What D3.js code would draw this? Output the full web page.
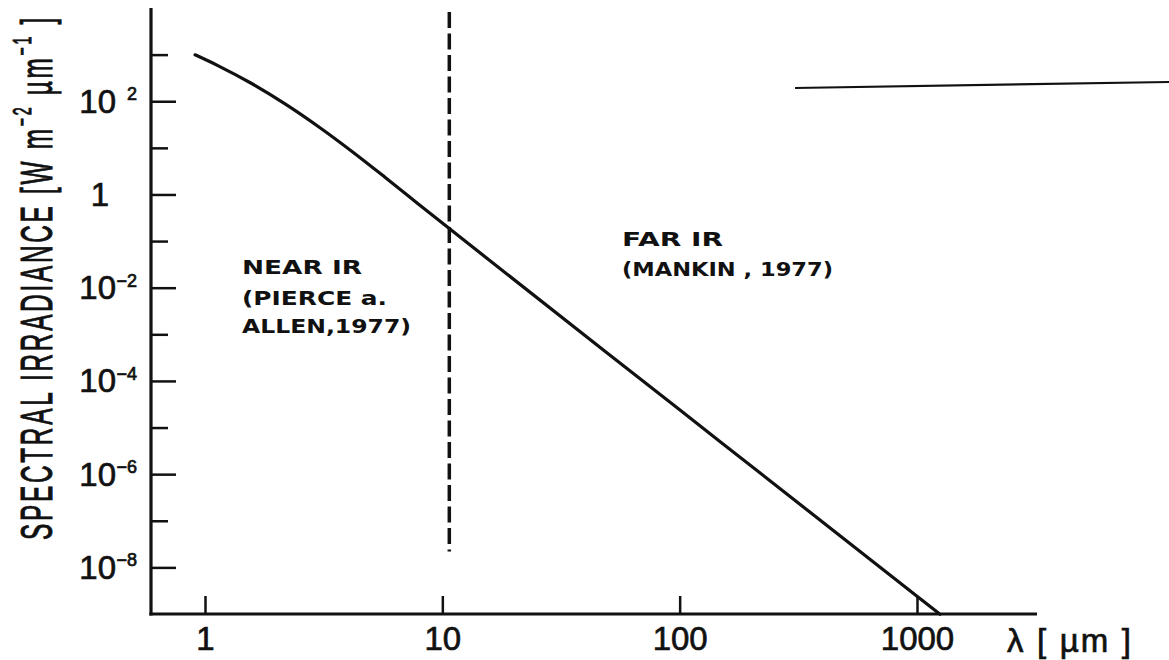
<!DOCTYPE html>
<html>
<head>
<meta charset="utf-8">
<script src="https://cdn.jsdelivr.net/npm/d3@7"></script>
<style>
  html, body { margin: 0; padding: 0; background: #fff; }
  svg { display: block; }
</style>
</head>
<body>
<svg id="chart" width="1169" height="660"></svg>
<script>
// Solar spectral irradiance in the infrared, wavelength in µm
const wavelength = [0.908, 1.138, 1.573, 2.174, 3.0, 4.15, 5.73, 7.92, 10.6, 100, 1000, 1250];
const irradiance = [991, 575, 240, 87.9, 28.8, 8.49, 2.35, 0.628, 0.192, 2.40e-5, 2.41e-9, 9.9e-10];

// Axis ticks
const xTickValues = [1, 10, 100, 1000];
const xTickLabels = ["1", "10", "100", "1000"];
const yMajorExponents = [2, 0, -2, -4, -6, -8];
const yMinorExponents = [3, 1, -1, -3, -5, -7];

// Boundary between the two data sources
const boundaryWavelength = 10.7;
const boundarySpan = [2.2e-8, 8.2e3];

// Region annotations
const nearLines = ["NEAR IR", "(PIERCE a.", "ALLEN,1977)"];
const nearWidths = [120, 145, 169];
const farLines = ["FAR IR", "(MANKIN , 1977)"];
const farWidths = [101, 211];

(function draw() {
  const svg = d3.select("#chart");
  const ink = "#111";

  const plotLeft = 151, plotRight = 1037, plotTop = 8, plotBottom = 614;

  const x = d3.scaleLog().domain([1, 1000]).range([205, 917]);
  const y = d3.scaleLog().domain([1e-9, 1e4]).range([plotBottom, plotTop]);

  const numFont = "'Liberation Sans', Arial, sans-serif";

  // ---- y axis: major and minor inward ticks ----
  const yMajor = svg.append("g").attr("transform", `translate(${plotLeft},0)`)
    .call(d3.axisLeft(y).tickValues(yMajorExponents.map(e => Math.pow(10, e)))
      .tickSize(-25).tickFormat(""));
  const yMinor = svg.append("g").attr("transform", `translate(${plotLeft},0)`)
    .call(d3.axisLeft(y).tickValues(yMinorExponents.map(e => Math.pow(10, e)))
      .tickSize(-17).tickFormat(""));
  [yMajor, yMinor].forEach(g => {
    g.select(".domain").remove();
    g.selectAll(".tick line").attr("stroke", ink).attr("stroke-width", 2.5);
  });

  // y tick labels as powers of ten
  const yLab = svg.append("g").attr("font-family", numFont).attr("fill", ink)
    .attr("stroke", ink).attr("stroke-width", 0.7);
  yMajorExponents.forEach(e => {
    const ty = y(Math.pow(10, e));
    if (e === 0) {
      yLab.append("text").attr("x", plotLeft - 42).attr("y", ty).attr("dy", "0.35em")
        .attr("text-anchor", "end").attr("font-size", 33).text("1");
    } else {
      yLab.append("text").attr("x", plotLeft - 35).attr("y", ty).attr("dy", "0.35em")
        .attr("text-anchor", "end").attr("font-size", 33).text("10");
      yLab.append("text").attr("x", plotLeft - 14).attr("y", ty - 1)
        .attr("text-anchor", "end").attr("font-size", 18)
        .text(e < 0 ? "\u2212" + Math.abs(e) : String(e));
    }
  });

  // ---- x axis: short upward ticks ----
  const xAxis = svg.append("g").attr("transform", `translate(0,${plotBottom})`)
    .call(d3.axisBottom(x).tickValues(xTickValues).tickSize(-18).tickPadding(13)
      .tickFormat((d, i) => xTickLabels[i]));
  xAxis.select(".domain").remove();
  xAxis.selectAll(".tick line").attr("stroke", ink).attr("stroke-width", 2.5);
  xAxis.selectAll(".tick text").attr("font-family", numFont).attr("font-size", 33)
    .attr("fill", ink).attr("stroke", ink).attr("stroke-width", 0.7);

  // axis lines
  svg.append("line").attr("x1", plotLeft).attr("x2", plotLeft)
    .attr("y1", plotTop).attr("y2", plotBottom + 1.5)
    .attr("stroke", ink).attr("stroke-width", 3.2);
  svg.append("line").attr("x1", plotLeft - 1.6).attr("x2", plotRight)
    .attr("y1", plotBottom).attr("y2", plotBottom)
    .attr("stroke", ink).attr("stroke-width", 3.2);

  // x axis title
  svg.append("text").attr("x", 1007).attr("y", 652)
    .attr("font-family", numFont).attr("font-size", 33).attr("fill", ink)
    .attr("stroke", ink).attr("stroke-width", 0.7)
    .attr("textLength", 124).attr("lengthAdjust", "spacing")
    .text("\u03bb [ \u00b5m ]");

  // y axis title, rotated and compressed to its column
  const yTitleG = svg.append("g");
  const yTitle = yTitleG.append("text")
    .attr("font-family", numFont).attr("font-size", 45).attr("fill", ink)
    .attr("letter-spacing", 5)
    .attr("stroke", ink).attr("stroke-width", 1.0);
  yTitle.append("tspan").text("SPECTRAL IRRADIANCE [W m");
  yTitle.append("tspan").attr("font-size", 26).attr("dy", -21).text("\u22122");
  yTitle.append("tspan").attr("dy", 21).text(" \u00b5m");
  yTitle.append("tspan").attr("font-size", 26).attr("dy", -21).text("\u22121");
  yTitle.append("tspan").attr("dy", 21).text(" ]");
  const natural = yTitle.node().getComputedTextLength();
  const sx = 525 / natural;
  yTitleG.attr("transform", `translate(52,540) rotate(-90) scale(${sx},1)`);

  // ---- spectrum curve ----
  const pts = wavelength.map((w, i) => [w, irradiance[i]]);
  const line = d3.line().x(d => x(d[0])).y(d => y(d[1])).curve(d3.curveMonotoneX);
  svg.append("path").datum(pts).attr("d", line)
    .attr("fill", "none").attr("stroke", ink).attr("stroke-width", 3.2)
    .attr("stroke-linejoin", "round").attr("stroke-linecap", "round");

  // ---- dashed boundary ----
  svg.append("line")
    .attr("x1", x(boundaryWavelength)).attr("x2", x(boundaryWavelength))
    .attr("y1", y(boundarySpan[1])).attr("y2", y(boundarySpan[0]))
    .attr("stroke", ink).attr("stroke-width", 3.5).attr("stroke-dasharray", "16,5.5");

  // ---- stray rule near the top right ----
  svg.append("line").attr("x1", 795).attr("y1", 88).attr("x2", 1169).attr("y2", 82)
    .attr("stroke", ink).attr("stroke-width", 2.2);

  // ---- annotations ----
  const annFont = "'DejaVu Sans', Verdana, sans-serif";
  const ann = svg.append("g").attr("font-family", annFont).attr("font-weight", "bold")
    .attr("font-size", 20).attr("fill", ink);
  const nearBase = [274, 305, 333];
  nearLines.forEach((t, i) => {
    ann.append("text").attr("x", 242).attr("y", nearBase[i])
      .attr("textLength", nearWidths[i]).attr("lengthAdjust", "spacingAndGlyphs").text(t);
  });
  const farBase = [246, 276];
  farLines.forEach((t, i) => {
    ann.append("text").attr("x", 622).attr("y", farBase[i])
      .attr("textLength", farWidths[i]).attr("lengthAdjust", "spacingAndGlyphs").text(t);
  });
})();
</script>
</body>
</html>
